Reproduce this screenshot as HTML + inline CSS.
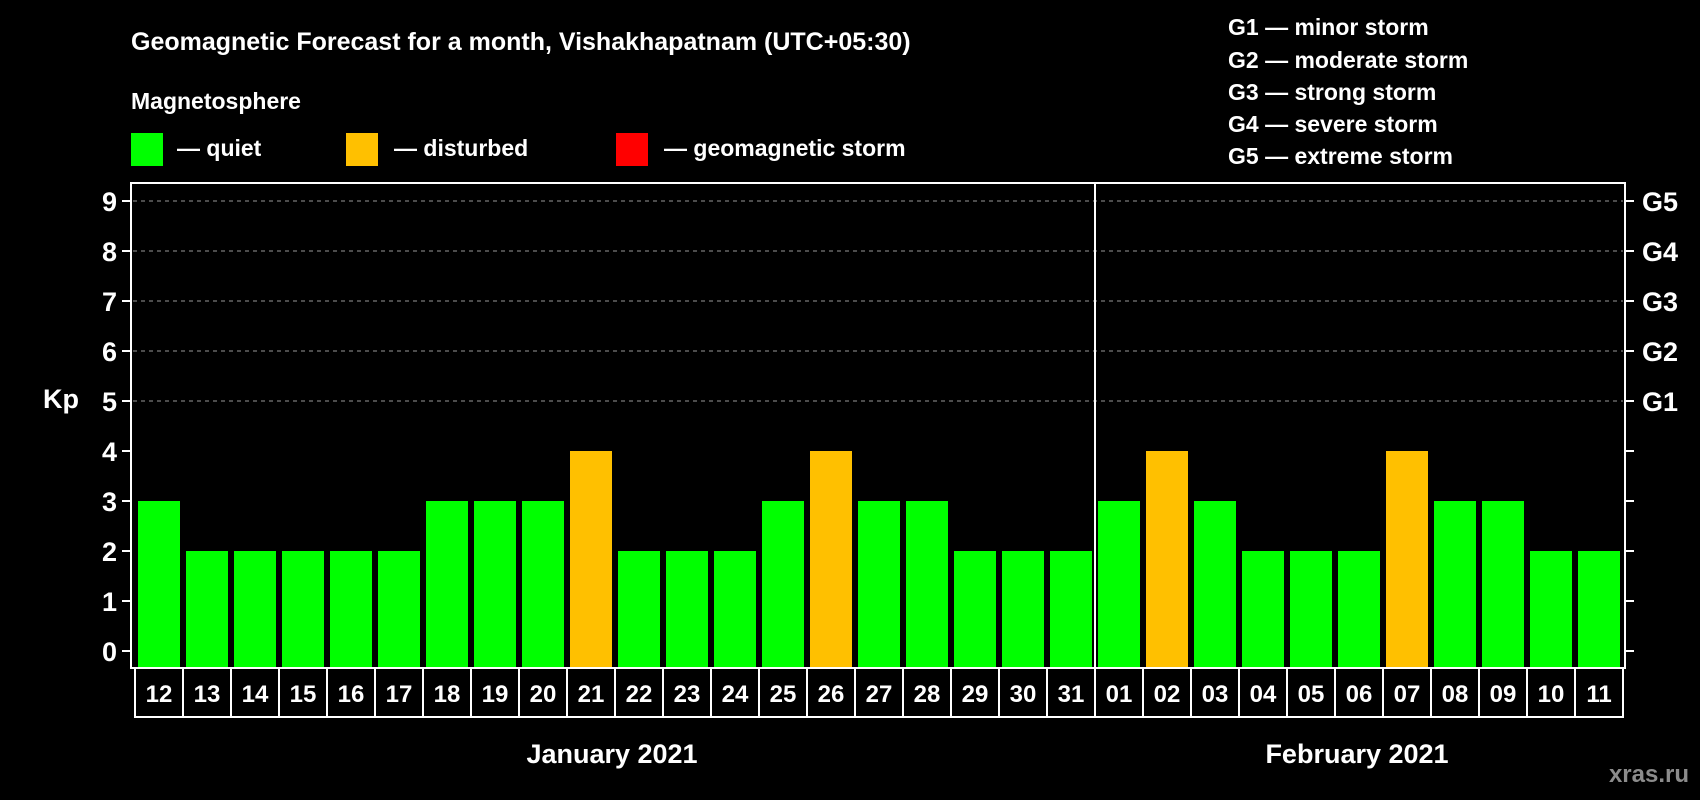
<!DOCTYPE html>
<html><head><meta charset="utf-8"><style>
body{margin:0;background:#000;width:1700px;height:800px;overflow:hidden}
svg{display:block;font-family:"Liberation Sans",sans-serif;font-weight:bold}
</style></head><body>
<svg id="c" width="1700" height="800">
<text x="131" y="50" fill="#fff" font-size="25">Geomagnetic Forecast for a month, Vishakhapatnam (UTC+05:30)</text>
<text x="131" y="109" fill="#fff" font-size="23">Magnetosphere</text>
<g><rect x="131" y="133" width="32" height="33" fill="#00ff00"/><text x="177" y="156" fill="#fff" font-size="23">— quiet</text></g>
<g><rect x="346" y="133" width="32" height="33" fill="#ffc000"/><text x="394" y="156" fill="#fff" font-size="23">— disturbed</text></g>
<g><rect x="616" y="133" width="32" height="33" fill="#ff0000"/><text x="664" y="156" fill="#fff" font-size="23">— geomagnetic storm</text></g>
<g fill="#fff" font-size="23">
<text x="1228" y="35">G1 — minor storm</text><text x="1228" y="68">G2 — moderate storm</text><text x="1228" y="100">G3 — strong storm</text><text x="1228" y="132">G4 — severe storm</text><text x="1228" y="164">G5 — extreme storm</text></g>
<text x="43" y="408" fill="#fff" font-size="27">Kp</text>
<g id="plot"></g>
<text x="612" y="763" fill="#fff" font-size="27" text-anchor="middle">January 2021</text>
<text x="1357" y="763" fill="#fff" font-size="27" text-anchor="middle">February 2021</text>
<text x="1689" y="782" fill="#8c8c8c" font-size="24" text-anchor="end">xras.ru</text>
</svg>
<script>
const days=["12","13","14","15","16","17","18","19","20","21","22","23","24","25","26","27","28","29","30","31","01","02","03","04","05","06","07","08","09","10","11"];
const kp=[3,2,2,2,2,2,3,3,3,4,2,2,2,3,4,3,3,2,2,2,3,4,3,2,2,2,4,3,3,2,2];
const yTicks=[0,1,2,3,4,5,6,7,8,9];
const gLabels=["G1","G2","G3","G4","G5"];
const NS="http://www.w3.org/2000/svg";
const g=document.getElementById('plot');
const L=131,R=1625,T=183,B=668,slot0=135,slotW=48;
const y=v=>651-50*v;
const x=i=>slot0+slotW*i;
function mk(t,a,p){const e=document.createElementNS(NS,t);for(const k in a)e.setAttribute(k,a[k]);(p||g).appendChild(e);return e;}
yTicks.forEach(v=>{
 if(v>=5){const l=mk('line',{x1:L+2,x2:R-2,y1:y(v),y2:y(v),stroke:'#999','stroke-dasharray':'4,4','stroke-width':1});
 
 }
 mk('line',{x1:L-9,x2:L,y1:y(v),y2:y(v),stroke:'#fff','stroke-width':2});
 mk('line',{x1:R,x2:R+9,y1:y(v),y2:y(v),stroke:'#fff','stroke-width':2});
 const t=mk('text',{x:117,y:y(v)+10,fill:'#fff','font-size':27,'text-anchor':'end'});t.textContent=v;
 
 
 if(v>=5){const gt=mk('text',{x:1642,y:y(v)+10,fill:'#fff','font-size':27});gt.textContent=gLabels[v-5];
 
 }
});
kp.forEach((v,i)=>{
 const col=v>=5?'#ff0000':(v>=4?'#ffc000':'#00ff00');
 const r=mk('rect',{x:x(i)+3,y:y(v),width:42,height:B-y(v),fill:col});
 
 
 const c=mk('rect',{x:x(i),y:B,width:slotW,height:49,fill:'none',stroke:'#fff','stroke-width':2});
 
 
 const t=mk('text',{x:x(i)+slotW/2,y:B+34,fill:'#fff','font-size':24,'text-anchor':'middle'});t.textContent=days[i];
 
 
});
const fr=mk('rect',{x:L,y:T,width:R-L,height:B-T,fill:'none',stroke:'#fff','stroke-width':2});


const sep=days.indexOf("01");
const s=mk('line',{x1:x(sep),x2:x(sep),y1:T,y2:B+49,stroke:'#fff','stroke-width':2});


</script>
</body></html>
